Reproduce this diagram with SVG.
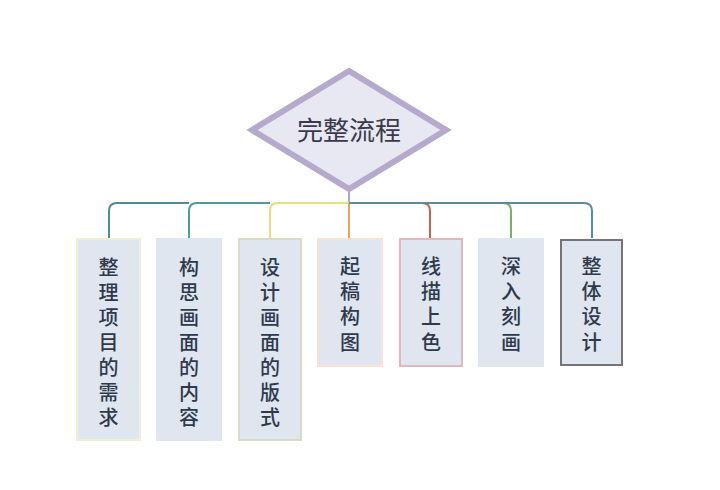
<svg xmlns="http://www.w3.org/2000/svg" width="720" height="490" viewBox="0 0 720 490">
<style>
.box{fill:#dfe6f0;stroke-width:2}
.t{font-family:"Noto Sans CJK SC","Noto Sans",sans-serif;font-size:20px;font-weight:500;fill:#2e3a4c;text-anchor:middle}
.c{fill:none;stroke-width:2}
</style>
<rect width="720" height="490" fill="#ffffff"/>
<g id="connectors">
<path class="c" stroke="#a9a6cc" d="M349,188 V203"/>
<path class="c" stroke="#4f8a9c" d="M189,203 H117 Q109,203 109,211 V238"/>
<path class="c" stroke="#4f9a9c" d="M270,203 H197 Q189,203 189,211 V238"/>
<path class="c" stroke="#e6e27a" d="M349,203 H278 Q270,203 270,211 V238"/>
<path class="c" stroke="#e3a45c" d="M349,203 V238"/>
<path class="c" stroke="#c9604e" d="M422,203 Q430,203 430,211 V238"/>
<path class="c" stroke="#74b264" d="M503,203 Q511,203 511,211 V238"/>
<path class="c" stroke="#5a8a9c" d="M349,203 H584 Q592,203 592,211 V238"/>
</g>
<g id="root">
<polygon points="252,130 349,71 446,130 349,189" fill="#e8e8f3" stroke="#b5aacb" stroke-width="6" stroke-linejoin="miter"/>
<text x="349" y="140" font-family="Noto Sans CJK SC,sans-serif" font-size="26" fill="#3a3a4a" text-anchor="middle">完整流程</text>
</g>
<g id="n1">
<rect class="box" x="77" y="239" width="63" height="201" stroke="#eef0d6"/>
<text class="t"><tspan x="108.5" y="275">整</tspan><tspan x="108.5" y="300">理</tspan><tspan x="108.5" y="325">项</tspan><tspan x="108.5" y="350">目</tspan><tspan x="108.5" y="375">的</tspan><tspan x="108.5" y="400">需</tspan><tspan x="108.5" y="425">求</tspan></text>
</g>
<g id="n2">
<rect class="box" x="157" y="239" width="64" height="201" stroke="#dfe6f0"/>
<text class="t"><tspan x="189" y="275">构</tspan><tspan x="189" y="300">思</tspan><tspan x="189" y="325">画</tspan><tspan x="189" y="350">面</tspan><tspan x="189" y="375">的</tspan><tspan x="189" y="400">内</tspan><tspan x="189" y="425">容</tspan></text>
</g>
<g id="n3">
<rect class="box" x="239" y="239" width="62" height="201" stroke="#d8dbc6" stroke-width="3"/>
<text class="t"><tspan x="270" y="275">设</tspan><tspan x="270" y="300">计</tspan><tspan x="270" y="325">画</tspan><tspan x="270" y="350">面</tspan><tspan x="270" y="375">的</tspan><tspan x="270" y="400">版</tspan><tspan x="270" y="425">式</tspan></text>
</g>
<g id="n4">
<rect class="box" x="318" y="239" width="64" height="127" stroke="#f8e2d2"/>
<text class="t"><tspan x="350" y="274">起</tspan><tspan x="350" y="299">稿</tspan><tspan x="350" y="324">构</tspan><tspan x="350" y="350">图</tspan></text>
</g>
<g id="n5">
<rect class="box" x="400" y="239" width="62" height="127" stroke="#e2b9b8" stroke-width="3"/>
<text class="t"><tspan x="431" y="274">线</tspan><tspan x="431" y="299">描</tspan><tspan x="431" y="324">上</tspan><tspan x="431" y="350">色</tspan></text>
</g>
<g id="n6">
<rect class="box" x="479" y="239" width="64" height="127" stroke="#dfe6f0"/>
<text class="t"><tspan x="511" y="274">深</tspan><tspan x="511" y="299">入</tspan><tspan x="511" y="324">刻</tspan><tspan x="511" y="350">画</tspan></text>
</g>
<g id="n7">
<rect class="box" x="561" y="240" width="61" height="125" stroke="#747474" stroke-width="3"/>
<text class="t"><tspan x="591.5" y="274">整</tspan><tspan x="591.5" y="299">体</tspan><tspan x="591.5" y="324">设</tspan><tspan x="591.5" y="350">计</tspan></text>
</g>
</svg>
